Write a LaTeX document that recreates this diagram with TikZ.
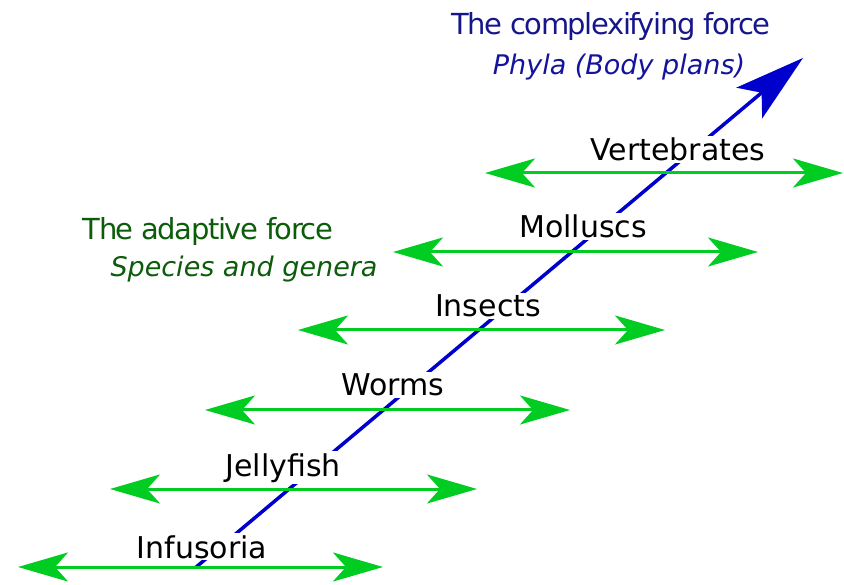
\documentclass[tikz,border=0pt]{standalone}
\usepackage{fontspec}
\setmainfont{DejaVu Sans}
\usetikzlibrary{arrows.meta,positioning}
\definecolor{leafgreen}{RGB}{0,204,34}
\definecolor{darkleaf}{RGB}{12,92,12}
\definecolor{phylumblue}{RGB}{0,0,204}
\definecolor{navytext}{RGB}{22,22,140}

\begin{document}
\begin{tikzpicture}[x=1pt,y=-1pt]
  \tikzstyle{branch}=[
    draw=leafgreen,
    line width=3pt,
    >={Stealth[length=50pt,width=29pt,inset=13pt]},
    <->
  ]
  \tikzstyle{trunk}=[
    draw=phylumblue,
    line width=3.5pt,
    -{Stealth[length=70pt,width=40pt,inset=16pt]}
  ]
  \tikzstyle{taxon}=[
    fill=white, inner sep=2pt, anchor=base,
    font=\fontsize{30}{36}\selectfont
  ]
  \tikzstyle{heading}=[
    inner sep=0pt, anchor=base,
    font=\fontsize{29}{34}\selectfont\addfontfeatures{LetterSpace=-5}
  ]
  \tikzstyle{subheading}=[heading,
    font=\fontsize{27}{32}\selectfont\itshape
  ]

  \useasboundingbox (0,0) rectangle (844,585);

  \coordinate (root) at (195,568);
  \coordinate (apex) at (803,58);
  \draw[trunk] (root) -- (apex);

  \coordinate (vert l) at (485,173);  \coordinate (vert r) at (843,173);
  \coordinate (moll l) at (393,252);  \coordinate (moll r) at (758,252);
  \coordinate (ins l)  at (298,330);  \coordinate (ins r)  at (665,330);
  \coordinate (worm l) at (205,410);  \coordinate (worm r) at (570,410);
  \coordinate (jel l)  at (110,489);  \coordinate (jel r)  at (477,489);
  \coordinate (inf l)  at (18,567);   \coordinate (inf r)  at (383,567);

  \draw[branch] (vert l) -- (vert r);
  \draw[branch] (moll l) -- (moll r);
  \draw[branch] (ins l) -- (ins r);
  \draw[branch] (worm l) -- (worm r);
  \draw[branch] (jel l) -- (jel r);
  \draw[branch] (inf l) -- (inf r);

  \node[taxon] (vertebrates) at (678,161) {Vertebrates};
  \node[taxon] (molluscs)    at (583,238) {Molluscs};
  \node[taxon] (insects)     at (488,317) {Insects};
  \node[taxon] (worms)       at (393,396) {Worms};
  \node[taxon] (jellyfish)   at (283,476) {Jellyfish};
  \node[taxon] (infusoria)   at (202,558) {Infusoria};

  \node[heading, text=navytext] (complex) at (611,35) {The complexifying force};
  \node[subheading, text=navytext!85!blue] (phyla) at (619,75) {Phyla (Body plans)};
  \node[heading, text=darkleaf] (adaptive) at (208,240) {The adaptive force};
  \node[subheading, text=darkleaf] (species) at (244,277) {Species and genera};
\end{tikzpicture}
\end{document}
